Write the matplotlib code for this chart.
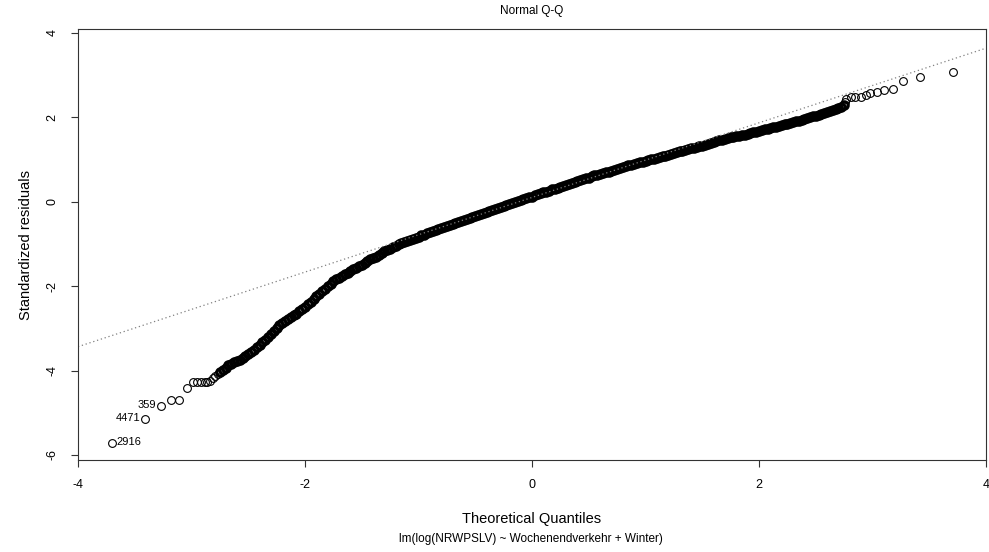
import matplotlib
matplotlib.use("Agg")
import matplotlib.pyplot as plt

plt.rcParams["font.family"] = ["Liberation Sans", "DejaVu Sans"]
plt.rcParams["axes.unicode_minus"] = False

# body of the Q-Q cloud: theoretical quantile -> standardized residual
body_q = [
    -2.750, -2.725, -2.700, -2.675, -2.650, -2.625, -2.600, -2.575, -2.550, -2.525,
    -2.500, -2.475, -2.450, -2.425, -2.400, -2.375, -2.350, -2.325, -2.300, -2.275,
    -2.250, -2.225, -2.200, -2.175, -2.150, -2.125, -2.100, -2.075, -2.050, -2.025,
    -2.000, -1.975, -1.950, -1.925, -1.900, -1.875, -1.850, -1.825, -1.800, -1.775,
    -1.750, -1.725, -1.700, -1.675, -1.650, -1.625, -1.600, -1.575, -1.550, -1.525,
    -1.500, -1.475, -1.450, -1.425, -1.400, -1.375, -1.350, -1.325, -1.300, -1.275,
    -1.250, -1.225, -1.200, -1.175, -1.150, -1.125, -1.100, -1.075, -1.050, -1.025,
    -1.000, -0.975, -0.950, -0.925, -0.900, -0.875, -0.850, -0.825, -0.800, -0.775,
    -0.750, -0.725, -0.700, -0.675, -0.650, -0.625, -0.600, -0.575, -0.550, -0.525,
    -0.500, -0.475, -0.450, -0.425, -0.400, -0.375, -0.350, -0.325, -0.300, -0.275,
    -0.250, -0.225, -0.200, -0.175, -0.150, -0.125, -0.100, -0.075, -0.050, -0.025,
    0.000, 0.025, 0.050, 0.075, 0.100, 0.125, 0.150, 0.175, 0.200, 0.225,
    0.250, 0.275, 0.300, 0.325, 0.350, 0.375, 0.400, 0.425, 0.450, 0.475,
    0.500, 0.525, 0.550, 0.575, 0.600, 0.625, 0.650, 0.675, 0.700, 0.725,
    0.750, 0.775, 0.800, 0.825, 0.850, 0.875, 0.900, 0.925, 0.950, 0.975,
    1.000, 1.025, 1.050, 1.075, 1.100, 1.125, 1.150, 1.175, 1.200, 1.225,
    1.250, 1.275, 1.300, 1.325, 1.350, 1.375, 1.400, 1.425, 1.450, 1.475,
    1.500, 1.525, 1.550, 1.575, 1.600, 1.625, 1.650, 1.675, 1.700, 1.725,
    1.750, 1.775, 1.800, 1.825, 1.850, 1.875, 1.900, 1.925, 1.950, 1.975,
    2.000, 2.025, 2.050, 2.075, 2.100, 2.125, 2.150, 2.175, 2.200, 2.225,
    2.250, 2.275, 2.300, 2.325, 2.350, 2.375, 2.400, 2.425, 2.450, 2.475,
    2.500, 2.525, 2.550, 2.575, 2.600, 2.625, 2.650, 2.675, 2.700, 2.725,
    2.750,
]
body_r = [
    -4.03, -3.98, -3.93, -3.88, -3.84, -3.80, -3.77, -3.74, -3.71, -3.66,
    -3.62, -3.56, -3.51, -3.45, -3.39, -3.33, -3.27, -3.20, -3.14, -3.07,
    -3.00, -2.93, -2.87, -2.82, -2.77, -2.73, -2.69, -2.65, -2.60, -2.55,
    -2.49, -2.43, -2.37, -2.30, -2.24, -2.18, -2.12, -2.06, -2.00, -1.94,
    -1.89, -1.84, -1.80, -1.76, -1.72, -1.68, -1.64, -1.60, -1.56, -1.52,
    -1.49, -1.45, -1.41, -1.37, -1.34, -1.30, -1.26, -1.22, -1.18, -1.14,
    -1.11, -1.07, -1.04, -1.01, -0.98, -0.95, -0.93, -0.90, -0.88, -0.85,
    -0.83, -0.80, -0.78, -0.75, -0.73, -0.70, -0.68, -0.65, -0.63, -0.60,
    -0.58, -0.55, -0.53, -0.51, -0.49, -0.46, -0.44, -0.41, -0.39, -0.37,
    -0.35, -0.32, -0.30, -0.27, -0.25, -0.22, -0.20, -0.17, -0.15, -0.13,
    -0.11, -0.08, -0.06, -0.04, -0.02, 0.01, 0.03, 0.06, 0.08, 0.10,
    0.12, 0.15, 0.17, 0.20, 0.22, 0.24, 0.26, 0.29, 0.31, 0.33,
    0.35, 0.38, 0.40, 0.42, 0.44, 0.47, 0.49, 0.51, 0.53, 0.55,
    0.57, 0.60, 0.62, 0.64, 0.66, 0.68, 0.70, 0.71, 0.73, 0.76,
    0.78, 0.80, 0.82, 0.84, 0.86, 0.87, 0.89, 0.91, 0.93, 0.95,
    0.97, 0.98, 1.00, 1.02, 1.04, 1.06, 1.08, 1.09, 1.11, 1.13,
    1.15, 1.17, 1.19, 1.20, 1.22, 1.24, 1.26, 1.27, 1.29, 1.31,
    1.33, 1.35, 1.37, 1.39, 1.41, 1.43, 1.45, 1.46, 1.48, 1.50,
    1.52, 1.53, 1.55, 1.56, 1.58, 1.59, 1.61, 1.62, 1.64, 1.65,
    1.67, 1.69, 1.71, 1.72, 1.74, 1.76, 1.78, 1.79, 1.81, 1.83,
    1.85, 1.86, 1.88, 1.90, 1.92, 1.94, 1.96, 1.98, 2.00, 2.02,
    2.04, 2.06, 2.08, 2.10, 2.12, 2.14, 2.17, 2.19, 2.22, 2.25,
    2.28,
]

# sparse tails, one entry per visible circle
low_q = [-3.70, -3.41, -3.27, -3.18, -3.11, -3.04, -2.99, -2.95, -2.92, -2.88,
         -2.86, -2.84, -2.81, -2.79, -2.77]
low_r = [-5.72, -5.15, -4.85, -4.70, -4.70, -4.41, -4.28, -4.28, -4.28, -4.28,
         -4.28, -4.26, -4.17, -4.13, -4.08]
high_q = [2.76, 2.77, 2.81, 2.85, 2.90, 2.94, 2.98, 3.04, 3.10, 3.18, 3.27, 3.42, 3.71]
high_r = [2.36, 2.43, 2.49, 2.49, 2.49, 2.53, 2.57, 2.59, 2.65, 2.67, 2.87, 2.96, 3.06]

# labelled observations
id_labels = ["2916", "4471", "359"]
id_q = [-3.70, -3.41, -3.27]
id_r = [-5.72, -5.15, -4.85]

# qqline through the quartiles
line_intercept = 0.10
line_slope = 0.884

x_ticks = [-4, -2, 0, 2, 4]
y_ticks = [-6, -4, -2, 0, 2, 4]

fig = plt.figure(figsize=(9.89, 5.52), dpi=100)
ax = fig.add_axes([78 / 989, 1 - 460 / 552, 908 / 989, 431 / 552])

circle = dict(linestyle="none", marker="o", markerfacecolor="none",
              markeredgecolor="black")
# the body is thousands of overlapping circles -> heavier outline
ax.plot(body_q, body_r, markersize=5.4, markeredgewidth=2.2, **circle)
ax.plot(low_q + high_q, low_r + high_r, markersize=5.6, markeredgewidth=0.8,
        **circle)

ax.axline((0, line_intercept), slope=line_slope, color="#808080",
          linestyle=(0, (1, 2.2)), linewidth=0.9)

for lab, q, r in zip(id_labels, id_q, id_r):
    if lab == "2916":
        ax.annotate(lab, (q, r), xytext=(3, 1), textcoords="offset points",
                    ha="left", va="center", fontsize=8)
    else:
        ax.annotate(lab, (q, r), xytext=(-3.5, 1), textcoords="offset points",
                    ha="right", va="center", fontsize=8)

ax.set_xlim(-4, 4)
ax.set_ylim(-6.12, 4.09)
ax.set_xticks(x_ticks)
ax.set_yticks(y_ticks)
ax.set_yticklabels([str(t) for t in y_ticks], rotation=90, va="center")
ax.tick_params(direction="out", length=5, width=0.8, colors="#333333",
               labelcolor="black", labelsize=9, pad=9)

for sp in ax.spines.values():
    sp.set_color("#333333")
    sp.set_linewidth(0.8)

ax.set_title("Normal Q-Q", fontsize=8.5, pad=11)
ax.set_xlabel("Theoretical Quantiles", fontsize=10.5, labelpad=15)
ax.set_ylabel("Standardized residuals", fontsize=10.5, labelpad=10)
fig.text(531 / 989, 1 - 539 / 552, "lm(log(NRWPSLV) ~ Wochenendverkehr + Winter)",
         ha="center", va="center", fontsize=8.5)

fig.savefig("out.png", dpi=100)
